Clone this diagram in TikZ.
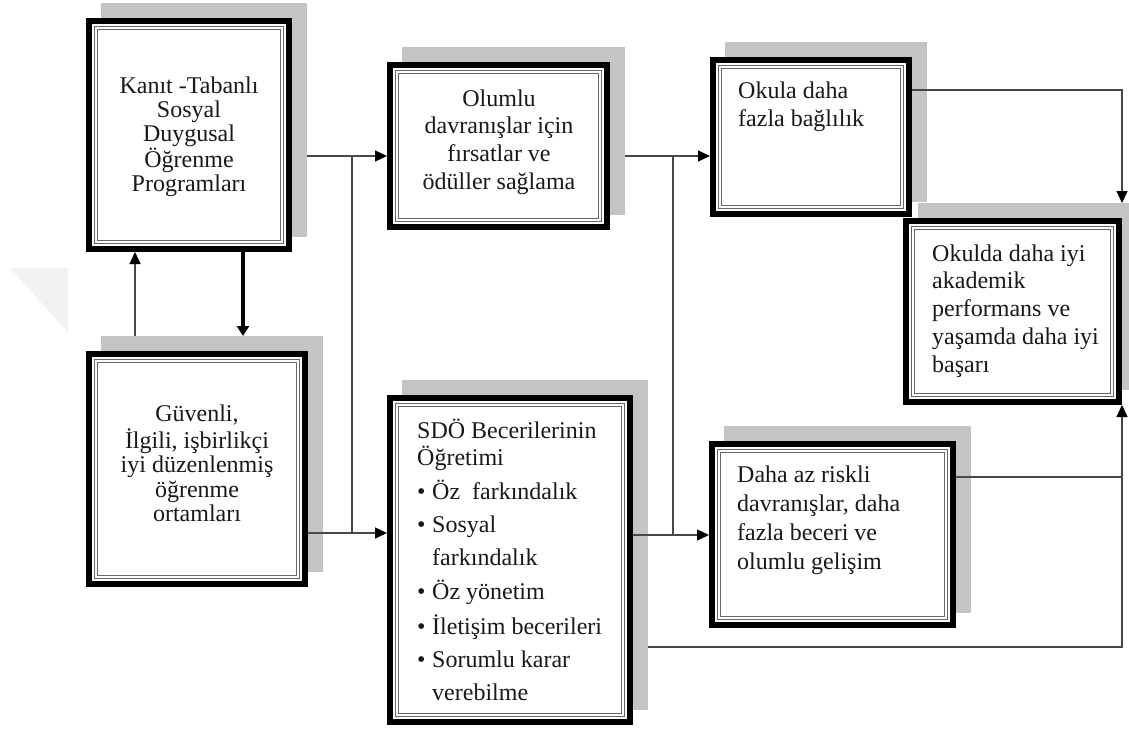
\documentclass[tikz,border=0pt]{standalone}
\usepackage{fontspec}
\setmainfont{Liberation Serif}
\usetikzlibrary{arrows.meta,calc}
\tikzset{
  shadowbox/.style={draw=none, fill=black!23, inner sep=0pt, outer sep=0pt},
  framebox/.style={draw=black, line width=6pt, fill=white, inner sep=0pt},
  innerline/.style={draw=black!60, line width=1pt},
  conn/.style={draw=black!72, line width=1.3pt},
  arr/.style={-{Triangle[length=12pt,width=11pt,black]}},
  thickarr/.style={draw=black, line width=3.4pt, -{Triangle[length=10pt,width=12pt]}},
  txt/.style={inner sep=0pt, text=black!90},
  wm/.style={fill=black!5, draw=none}
}
\newcommand{\dbox}[5]{%
  \pgfmathsetmacro{\bw}{#4-#2}\pgfmathsetmacro{\bh}{#5-#3}%
  \pgfmathsetmacro{\iw}{#4-#2-6}\pgfmathsetmacro{\ih}{#5-#3-6}%
  \pgfmathsetmacro{\cx}{(#2+#4)/2}\pgfmathsetmacro{\cy}{(#3+#5)/2}%
  \node[shadowbox, minimum width=\bw pt, minimum height=\bh pt] (#1-sh) at (\cx+15,\cy-15) {};
  \node[framebox, minimum width=\iw pt, minimum height=\ih pt] (#1) at (\cx,\cy) {};
  \draw[innerline] ($(#1.north west)+(8.6,8.6)$) rectangle ($(#1.south east)+(-8.6,-8.6)$);
  \draw[innerline] ($(#1.north west)+(11.2,11.2)$) rectangle ($(#1.south east)+(-11.2,-11.2)$);
}
\newcommand{\bul}{\makebox[15pt][l]{\textbullet}}
\begin{document}
\begin{tikzpicture}[x=1pt,y=-1pt]
\useasboundingbox (0,0) rectangle (1129,731);
\fill[white] (0,0) rectangle (1129,731);
\clip (0,0) rectangle (1129,731);
% faint watermark
\fill[wm] (10,268) -- (68,268) -- (68,332) -- cycle;

\dbox{A}{86}{18}{292}{252}
\dbox{B}{86}{351}{308}{587}
\dbox{C}{387}{62}{610}{230}
\dbox{D}{387}{395}{633}{725}
\dbox{E}{710}{57}{912}{217}
\dbox{F}{709}{441}{956}{628}
\dbox{G}{903}{218}{1122}{405}

\node[txt, anchor=base, font=\fontsize{24}{24}\selectfont] (A-t) at (189,93)
  {\begin{tabular}[t]{@{}c@{}}Kanıt -Tabanlı\\Sosyal\\Duygusal\\Öğrenme\\Programları\end{tabular}};
\node[txt, anchor=base, font=\fontsize{24}{24.5}\selectfont] (B-t) at (197,421)
  {\begin{tabular}[t]{@{}c@{}}Güvenli,\\İlgili, işbirlikçi\\iyi düzenlenmiş\\öğrenme\\ortamları\end{tabular}};
\node[txt, anchor=base, font=\fontsize{24}{27.7}\selectfont] (C-t) at (499,106)
  {\begin{tabular}[t]{@{}c@{}}Olumlu\\davranışlar için\\fırsatlar ve\\ödüller sağlama\end{tabular}};
\node[txt, anchor=base west, font=\fontsize{24}{26}\selectfont] (D-t) at (417,438)
  {\begin{tabular}[t]{@{}l@{}}SDÖ Becerilerinin\\Öğretimi\\[7pt]
   \bul Öz\ \ farkındalık\\[7pt]
   \bul Sosyal\\[7pt]
   \hspace*{15pt}farkındalık\\[7pt]
   \bul Öz yönetim\\[7pt]
   \bul İletişim becerileri\\[7pt]
   \bul Sorumlu karar\\[7pt]
   \hspace*{15pt}verebilme\end{tabular}};
\node[txt, anchor=base west, font=\fontsize{24}{28}\selectfont] (E-t) at (738,98)
  {\begin{tabular}[t]{@{}l@{}}Okula daha\\fazla bağlılık\end{tabular}};
\node[txt, anchor=base west, font=\fontsize{24}{29}\selectfont] (F-t) at (737,482)
  {\begin{tabular}[t]{@{}l@{}}Daha az riskli\\davranışlar, daha\\fazla beceri ve\\olumlu gelişim\end{tabular}};
\node[txt, anchor=base west, font=\fontsize{24}{27.8}\selectfont] (G-t) at (932,261)
  {\begin{tabular}[t]{@{}l@{}}Okulda daha iyi\\akademik\\performans ve\\yaşamda daha iyi\\başarı\end{tabular}};

% connectors
\coordinate (j1) at (352,156);
\coordinate (j2) at (352,533);
\coordinate (k1) at (673,156);
\coordinate (k2) at (673,535);
\coordinate (r1) at (1122,90);
\coordinate (r2) at (1122,477);
\coordinate (r3) at (1122,647);
\coordinate (u) at (135,300);
\coordinate (d) at (243,300);

\draw[conn, arr] (A-sh.east |- j1) -- (C.west |- j1);
\draw[conn, arr] (B.east |- j2) -- (D.west |- j2);
\draw[conn] (j1) -- (j2);
\draw[conn, arr] (C-sh.east |- k1) -- (E.west |- k1);
\draw[conn, arr] (D.east |- k2) -- (F.west |- k2);
\draw[conn] (k1) -- (k2);
\draw[conn, arr] (E.east |- r1) -- (r1) -- (r1 |- G-sh.north);
\draw[conn] (F.east |- r2) -- (r2);
\draw[conn, arr] (D-sh.east |- r3) -- (r3) -- (r3 |- G.south);
\draw[conn, arr] (u |- B-sh.north) -- (u |- A.south);
\draw[thickarr] (d |- A.south) -- (d |- B-sh.north);
\end{tikzpicture}
\end{document}
